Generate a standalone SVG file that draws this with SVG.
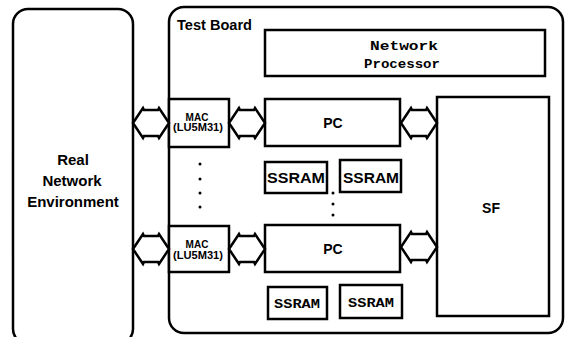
<svg xmlns="http://www.w3.org/2000/svg" width="566" height="337" viewBox="0 0 566 337">
  <style>
    .box { fill: #fff; stroke: #000; stroke-width: 2.5; }
    .frame { fill: none; stroke: #000; stroke-width: 2.5; }
    .arrow { fill: #fff; stroke: #000; stroke-width: 2.5; stroke-linejoin: miter; }
    .sans { font-family: "Liberation Sans", Arial, sans-serif; font-weight: bold; fill: #000; text-anchor: middle; }
    .mono { font-family: "Liberation Mono", "Courier New", monospace; font-weight: bold; fill: #000; text-anchor: middle; }
    .dot { fill: #000; }
  </style>
  <defs>
    <!-- block double arrow, 36 wide, centred on 0,0 -->
    <polygon id="dblArrow" points="-18,0 -8,-15 -7,-13 7,-13 8,-15 18,0 8,15 7,13 -7,13 -8,15"/>
  </defs>

  <rect width="566" height="337" fill="#fff"/>

  <!-- environment -->
  <g id="env">
    <rect class="frame" x="13" y="9" width="120" height="335" rx="15" ry="15"/>
    <text class="sans" font-size="15" x="73" y="165">Real</text>
    <text class="sans" font-size="15" x="72" y="186">Network</text>
    <text class="sans" font-size="15" x="73" y="207">Environment</text>
  </g>

  <!-- test board -->
  <g id="board">
    <rect class="frame" x="169" y="7" width="394" height="326" rx="15" ry="15"/>
    <text x="177" y="30" font-family="Liberation Sans, Arial, sans-serif" font-weight="bold" font-size="14" textLength="75" lengthAdjust="spacingAndGlyphs">Test Board</text>
  </g>

  <g id="np">
    <rect class="box" x="265" y="30" width="280" height="46"/>
    <text class="mono" font-size="13" x="404" y="50" textLength="68" lengthAdjust="spacingAndGlyphs">Network</text>
    <text class="mono" font-size="13" x="402" y="68" textLength="76" lengthAdjust="spacingAndGlyphs">Processor</text>
  </g>

  <g id="mac1">
    <rect class="box" x="169" y="99" width="60" height="48"/>
    <text class="sans" font-size="10" x="197" y="121">MAC</text>
    <text class="sans" font-size="10" x="198" y="131" textLength="50" lengthAdjust="spacingAndGlyphs">(LU5M31)</text>
  </g>

  <g id="mac2">
    <rect class="box" x="169" y="226" width="60" height="46"/>
    <text class="sans" font-size="10" x="197" y="248">MAC</text>
    <text class="sans" font-size="10" x="198" y="259" textLength="50" lengthAdjust="spacingAndGlyphs">(LU5M31)</text>
  </g>

  <g id="pc1">
    <rect class="box" x="265" y="99" width="135" height="47"/>
    <text class="sans" font-size="14" x="333" y="128">PC</text>
  </g>

  <g id="pc2">
    <rect class="box" x="265" y="225" width="135" height="47"/>
    <text class="sans" font-size="14" x="333" y="254">PC</text>
  </g>

  <g id="sf">
    <rect class="box" x="437" y="97" width="112" height="219"/>
    <text class="sans" font-size="14" x="491" y="213">SF</text>
  </g>

  <g id="ssram1">
    <rect class="box" x="265" y="162" width="62" height="31"/>
    <text class="sans" font-size="15" x="296" y="183" textLength="58" lengthAdjust="spacingAndGlyphs">SSRAM</text>
  </g>
  <g id="ssram2">
    <rect class="box" x="340" y="160" width="61" height="32"/>
    <text class="sans" font-size="15" x="371" y="183" textLength="56" lengthAdjust="spacingAndGlyphs">SSRAM</text>
  </g>
  <g id="ssram3">
    <rect class="box" x="268" y="287" width="59" height="32"/>
    <text class="mono" font-size="13" x="297" y="308" textLength="46" lengthAdjust="spacingAndGlyphs">SSRAM</text>
  </g>
  <g id="ssram4">
    <rect class="box" x="340" y="285" width="62" height="33"/>
    <text class="mono" font-size="13" x="371" y="307" textLength="46" lengthAdjust="spacingAndGlyphs">SSRAM</text>
  </g>

  <!-- ellipsis dots -->
  <g id="dots">
    <circle class="dot" cx="200" cy="164" r="1.5"/>
    <circle class="dot" cx="200" cy="179" r="1.5"/>
    <circle class="dot" cx="200" cy="193" r="1.5"/>
    <circle class="dot" cx="200" cy="207" r="1.5"/>
    <circle class="dot" cx="333" cy="193" r="1.5"/>
    <circle class="dot" cx="333" cy="204" r="1.5"/>
    <circle class="dot" cx="333" cy="215" r="1.5"/>
  </g>

  <!-- bidirectional links -->
  <g id="connectors" class="arrow">
    <use href="#dblArrow" x="151" y="123"/>
    <use href="#dblArrow" x="247" y="123"/>
    <use href="#dblArrow" x="419" y="123"/>
    <use href="#dblArrow" x="151" y="249"/>
    <use href="#dblArrow" x="247" y="249"/>
    <use href="#dblArrow" x="419" y="247"/>
  </g>
</svg>
